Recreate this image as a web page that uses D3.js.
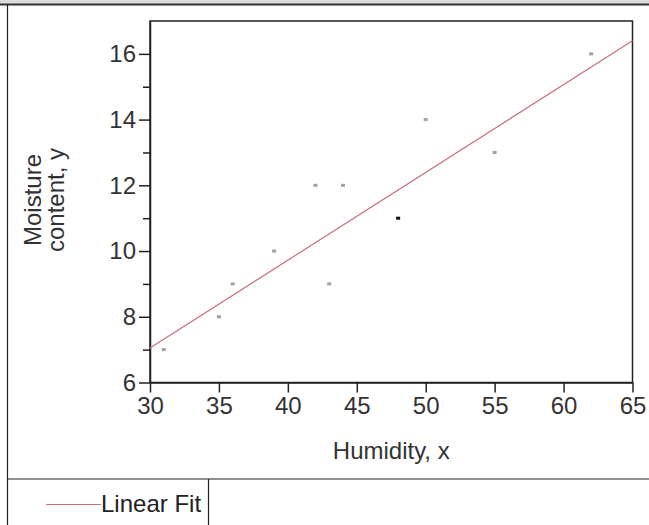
<!DOCTYPE html>
<html>
<head>
<meta charset="utf-8">
<script src="https://cdn.jsdelivr.net/npm/d3@7"></script>
<style>
  body { margin: 0; background: #fff; }
  svg { display: block; font-family: "Liberation Sans", Arial, sans-serif; }
</style>
</head>
<body>
<div id="chart"></div>
<script>
// humidity (x) and moisture content (y) readings
const humidity = [31, 35, 36, 39, 42, 43, 44, 48, 50, 55, 62];
const moisture = [7, 8, 9, 10, 12, 9, 12, 11, 14, 13, 16];
const highlighted = [48];            // the point drawn in black
const fitX = [30, 65];               // linear fit
const fitY = [7.05, 16.4];
const xTicks = [30, 35, 40, 45, 50, 55, 60, 65];
const yTicks = [6, 8, 10, 12, 14, 16];
const yMinorTicks = [7, 9, 11, 13, 15];

const width = 649, height = 525;
const margin = { top: 21, right: 16.5, bottom: 142.5, left: 150 };
const fontSize = '24px';

const svg = d3.select('#chart').append('svg')
    .attr('width', width)
    .attr('height', height);

// report frame
svg.append('rect')
    .attr('x', 0).attr('y', 0)
    .attr('width', width).attr('height', 4)
    .attr('fill', '#dcdcdc');
svg.append('line')
    .attr('x1', 0).attr('x2', width)
    .attr('y1', 4.5).attr('y2', 4.5)
    .attr('stroke', '#333').attr('stroke-width', 2);
svg.append('line')
    .attr('x1', 7.5).attr('x2', 7.5)
    .attr('y1', 4).attr('y2', height)
    .attr('stroke', '#222').attr('stroke-width', 1.2);
svg.append('line')
    .attr('x1', 7).attr('x2', width)
    .attr('y1', 479).attr('y2', 479)
    .attr('stroke', '#222').attr('stroke-width', 1.2);
svg.append('line')
    .attr('x1', 208.5).attr('x2', 208.5)
    .attr('y1', 479).attr('y2', height)
    .attr('stroke', '#222').attr('stroke-width', 1.2);

const xScale = d3.scaleLinear()
    .domain([30, 65])
    .range([margin.left, width - margin.right]);

const yScale = d3.scaleLinear()
    .domain([6, 17])
    .range([height - margin.bottom, margin.top]);

// plot box
svg.append('rect')
    .attr('x', margin.left)
    .attr('y', margin.top)
    .attr('width', xScale(65) - margin.left)
    .attr('height', yScale(6) - margin.top)
    .attr('fill', 'none')
    .attr('stroke', '#222')
    .attr('stroke-width', 1.5);

svg.append('g')
    .attr('transform', `translate(0,${yScale(6)})`)
    .call(d3.axisBottom(xScale).tickValues(xTicks).tickSize(10).tickPadding(4).tickSizeOuter(0));

svg.append('g')
    .attr('transform', `translate(${margin.left},0)`)
    .call(d3.axisLeft(yScale).tickValues(yTicks).tickSize(11).tickPadding(3).tickSizeOuter(0));

svg.append('g')
    .attr('transform', `translate(${margin.left},0)`)
    .call(d3.axisLeft(yScale).tickValues(yMinorTicks).tickSize(7).tickFormat(''))
    .call(g => g.select('.domain').remove());

svg.selectAll('.tick line, .domain')
    .attr('stroke', '#222')
    .attr('stroke-width', 1.5);

svg.selectAll('.tick text')
    .attr('fill', '#333')
    .style('font-size', fontSize)
    .style('font-family', '"Liberation Sans", Arial, sans-serif');

// axis titles
svg.append('text')
    .attr('x', (xScale(30) + xScale(65)) / 2)
    .attr('y', 459)
    .attr('text-anchor', 'middle')
    .attr('fill', '#333')
    .style('font-size', fontSize)
    .text('Humidity, x');

const yTitle = svg.append('text')
    .attr('transform', 'translate(0,200) rotate(-90)')
    .attr('text-anchor', 'middle')
    .attr('fill', '#333')
    .style('font-size', fontSize);
yTitle.append('tspan').attr('x', 0).attr('y', 41).text('Moisture');
yTitle.append('tspan').attr('x', 0).attr('y', 64).text('content, y');

// linear fit
svg.append('path')
    .datum(fitX.map((x, i) => ({ x: x, y: fitY[i] })))
    .attr('fill', 'none')
    .attr('stroke', '#c8707c')
    .attr('stroke-width', 1.2)
    .attr('d', d3.line()
        .x(d => xScale(d.x))
        .y(d => yScale(d.y)));

// points
const points = humidity.map((x, i) => ({ x: x, y: moisture[i] }));
svg.append('g')
    .selectAll('rect')
    .data(points)
    .enter()
    .append('rect')
    .attr('x', d => xScale(d.x) - 2)
    .attr('y', d => yScale(d.y) - 1.5)
    .attr('width', 4)
    .attr('height', 3)
    .attr('fill', d => highlighted.includes(d.x) ? '#111' : '#a0a0a8');

// legend
const legend = svg.append('g');
legend.append('line')
    .attr('x1', 46).attr('x2', 101)
    .attr('y1', 504.5).attr('y2', 504.5)
    .attr('stroke', '#c8707c')
    .attr('stroke-width', 1.2);
legend.append('text')
    .attr('x', 101)
    .attr('y', 512)
    .attr('fill', '#222')
    .style('font-size', fontSize)
    .text('Linear Fit');
</script>
</body>
</html>
